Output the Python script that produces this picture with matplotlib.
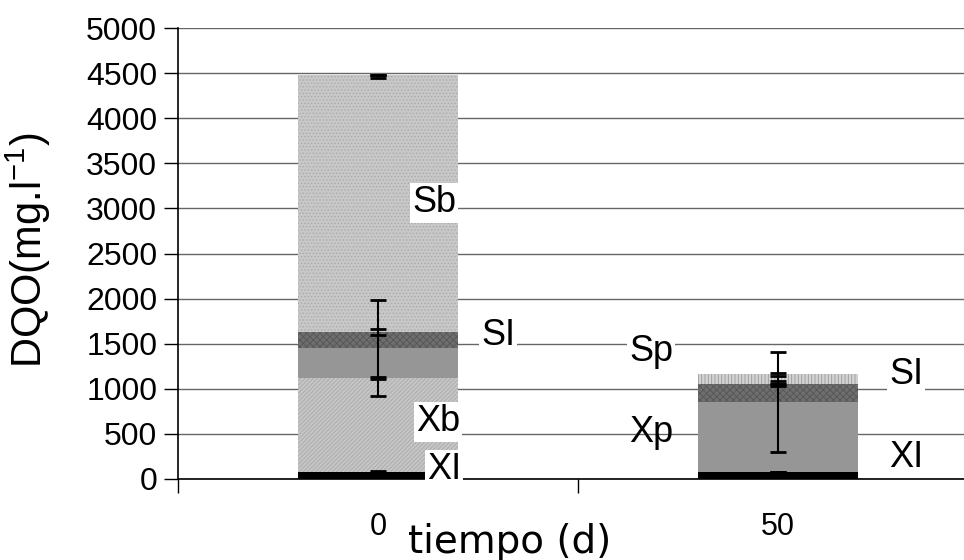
import numpy as np
import matplotlib.pyplot as plt

plt.rcParams['font.family'] = ['Liberation Sans', 'DejaVu Sans']
plt.rcParams['mathtext.default'] = 'regular'
plt.rcParams['hatch.linewidth'] = 0.6

# DQO fractions (mg/l) at t = 0 and t = 50 d
dias = ['0', '50']
XI = [75, 75]
Xb = [1045, 0]
Xp = [330, 775]
SI = [180, 205]
Sb = [2850, 0]
Sp = [0, 105]

# error of each cumulative top (lower, upper)
err_XI = [[10, 8], [10, 8]]
err_Xb = [[12, 0], [12, 0]]
err_Xp = [[535, 556], [535, 556]]
err_SI = [[30, 28], [30, 28]]
err_Sb = [[30, 0], [0, 0]]
err_Sp = [[0, 18], [0, 18]]

fig = plt.figure(figsize=(9.64, 5.6), dpi=100)
ax = fig.add_axes([178/964, 81/560, 800/964, 451/560])

x = np.arange(len(dias))
w = 0.4

series = [
    (XI, err_XI, dict(color='black')),
    (Xb, err_Xb, dict(facecolor='#c6c6c6', edgecolor='#a9a9a9', hatch='////////')),
    (Xp, err_Xp, dict(color='#969696')),
    (SI, err_SI, dict(facecolor='#6e6e6e', edgecolor='#555555', hatch='xxxxx')),
    (Sb, err_Sb, dict(facecolor='#c8c8c8', edgecolor='#aaaaaa', hatch='.....')),
    (Sp, err_Sp, dict(facecolor='#d2d2d2', edgecolor='#9a9a9a', hatch='|||||')),
]

bottom = np.zeros(len(dias))
for vals, err, style in series:
    vals = np.array(vals, dtype=float)
    ax.bar(x, vals, w, bottom=bottom, linewidth=0, zorder=2, **style)
    top = bottom + vals
    ax.errorbar(x, top, yerr=np.array(err), fmt='none', ecolor='black',
                elinewidth=1.5, capsize=6, capthick=2, zorder=4)
    bottom = top

ax.set_xlim(-0.5, 1.5)
ax.set_ylim(0, 5000)
ax.set_yticks(np.arange(0, 5001, 500))
ax.yaxis.grid(True, color='#666666', linewidth=1)
ax.set_axisbelow(True)

ax.set_xticks(x)
ax.set_xticklabels(dias)
ax.set_xticks([-0.5, 0.5, 1.5], minor=True)
ax.tick_params(axis='x', which='major', length=0, pad=24, labelsize=22)
ax.tick_params(axis='x', which='minor', length=10, width=1, direction='out')
ax.tick_params(axis='y', length=10, width=1, labelsize=23, pad=5)

for s in ['top', 'right']:
    ax.spines[s].set_visible(False)
ax.spines['left'].set_linewidth(1.2)
ax.spines['bottom'].set_linewidth(1.2)

# fraction labels (Xp sits on the grid line without a box)
etiquetas = [
    ('Sb', 0.14, 3060, True), ('SI', 0.30, 1596, True), ('Xb', 0.15, 632, True),
    ('XI', 0.165, 100, True), ('Sp', 0.6825, 1408, True), ('Xp', 0.6825, 521, False),
    ('SI', 1.32, 1153, True), ('XI', 1.32, 233, True),
]
for txt, xe, ye, caja in etiquetas:
    bbox = dict(facecolor='white', edgecolor='none', pad=1.5) if caja else None
    ax.text(xe, ye, txt, fontsize=26, ha='center', va='center', zorder=5, bbox=bbox)

fig.text(28/964, 310/560, 'DQO(mg.l$^{-1}$)', rotation=90, fontsize=30,
         ha='center', va='center')
fig.text(510/964, 7/560, 'tiempo (d)', fontsize=28, family='DejaVu Sans',
         ha='center', va='baseline')

fig.savefig('out.png', dpi=100)
